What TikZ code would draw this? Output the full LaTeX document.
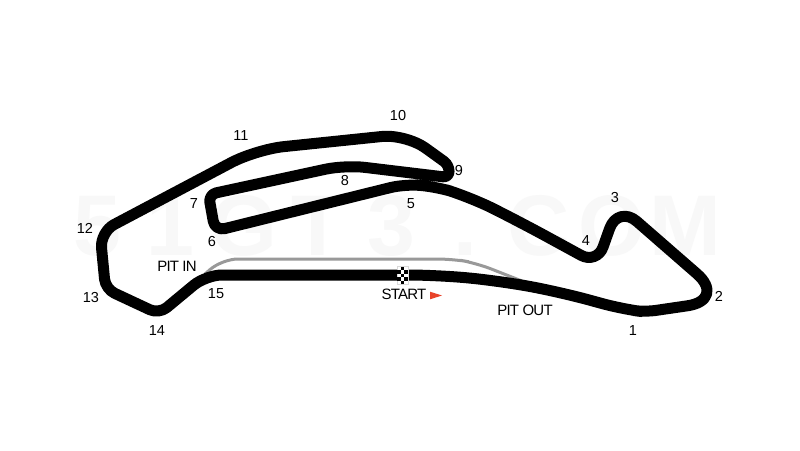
\documentclass[tikz,border=0pt]{standalone}
\usepackage{fontspec}
\setmainfont{Liberation Sans}
\usepackage{xcolor}
\usepackage{tikz}
\definecolor{pitgrey}{HTML}{999999}
\definecolor{startred}{HTML}{E8432A}
\definecolor{siteghost}{HTML}{F8F8F8}
\tikzset{
  track/.style={draw=black,line width=11pt,line join=round},
  pitlane/.style={draw=pitgrey,line width=3pt,rounded corners=16pt},
  turnlabel/.style={font=\fontsize{14.5}{14.5}\selectfont,inner sep=0pt,text=black},
  pitlabel/.style={font=\fontsize{15}{15}\selectfont\addfontfeatures{LetterSpace=-5},inner sep=0pt,text=black},
}
\begin{document}
\begin{tikzpicture}[x=1pt,y=-1pt]
  \useasboundingbox (0,0) rectangle (800,450);
  \fill[white] (0,0) rectangle (800,450);
  \foreach \ch [count=\i from 0] in {5,1,G,T,3,.,C,O,M}
    \node[font=\fontsize{86}{86}\selectfont\bfseries,text=siteghost,inner sep=0pt,anchor=base]
      (ghost\i) at ({97+73.6*\i},255) {\ch};
  \draw[pitlane] (205,274) -- (222,259) -- (453,259) -- (476,263) -- (527,283);
  \draw[track] (300,275) [rounded corners=30pt] -- (438,275)
    -- (500,281) -- (560,292) [rounded corners=20pt] -- (622,309)
    [rounded corners=11pt] -- (645,312)
    [rounded corners=40pt] -- (727,300) [rounded corners=25pt] -- (618,205)
    [rounded corners=18pt] -- (597,264) [rounded corners=30pt] -- (520,222)
    [rounded corners=25pt] -- (470,197) [rounded corners=15pt] -- (437,187) -- (405,184)
    [rounded corners=10pt] -- (215,231)
    [rounded corners=8pt] -- (208.5,194.5) [rounded corners=20pt] -- (345,165)
    [rounded corners=6pt] -- (449,177.5) -- (449,165) [rounded corners=24pt] -- (406,134)
    [rounded corners=28pt] -- (256,149.5) [rounded corners=16pt] -- (100,232)
    [rounded corners=10pt] -- (105.5,289) -- (159,314)
    [rounded corners=16pt] -- (206,275) -- cycle;
  % start flag
  \fill[white,draw=black!15,line width=0.4pt] (397,266.5) rectangle (408,284);
  \foreach \row in {0,...,4}
    \foreach \col in {0,1,2}{
      \pgfmathtruncatemacro{\odd}{mod(\row+\col,2)}
      \ifnum\odd=1
        \fill[black] ({397+\col*3.67},{266.5+\row*3.5}) rectangle ++(3.67,3.5);
      \fi
    }
  \foreach \n/\x/\y in {1/633/331,2/719/296,3/615/198,4/586/241,5/411/204,6/212/242,7/194/204,
    8/345/181,9/459/171,10/398/116,11/241/136,12/85/228,13/91/298,14/157/331,15/216/294}
    \node[turnlabel] (turn\n) at (\x,\y) {\n};
  \node[pitlabel] (pitin) at (177,266) {PIT IN};
  \node[pitlabel] (pitout) at (525,310) {PIT OUT};
  \node[pitlabel] (startlabel) at (404,294) {START};
  \fill[startred] (430,291.7) -- (442,295.5) -- (430,299.3) -- cycle;
\end{tikzpicture}
\end{document}
